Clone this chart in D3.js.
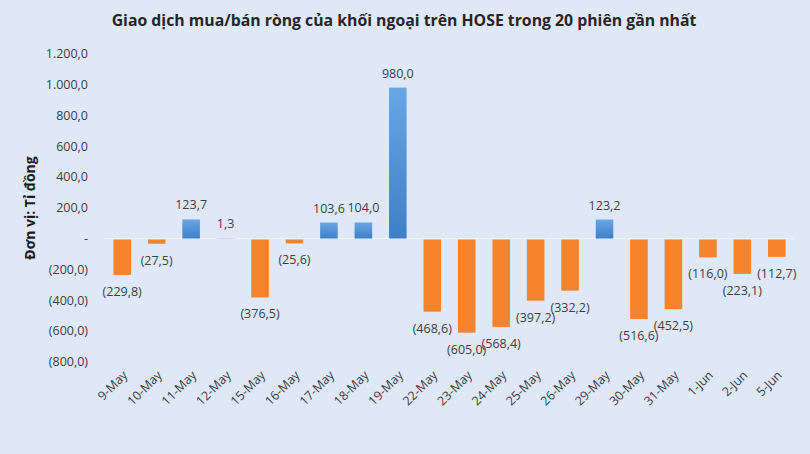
<!DOCTYPE html>
<html>
<head>
<meta charset="utf-8">
<script src="https://cdn.jsdelivr.net/npm/d3@7/dist/d3.min.js"></script>
<style>
    body { margin: 0; background: #dfe8f7; }
    svg { display: block; }
    .tick-label { font-family: "Open Sans", sans-serif; font-size: 12.5px; fill: #404040; }
    .bar-label { font-family: "Open Sans", sans-serif; font-size: 12.5px; fill: #404040; }
</style>
</head>
<body>
<svg width="810" height="454"></svg>
<script>
    // data
    var dates = ["9-May", "10-May", "11-May", "12-May", "15-May", "16-May", "17-May", "18-May",
        "19-May", "22-May", "23-May", "24-May", "25-May", "26-May", "29-May", "30-May",
        "31-May", "1-Jun", "2-Jun", "5-Jun"];
    var netValues = [-229.8, -27.5, 123.7, 1.3, -376.5, -25.6, 103.6, 104.0,
        980.0, -468.6, -605.0, -568.4, -397.2, -332.2, 123.2, -516.6,
        -452.5, -116.0, -223.1, -112.7];
    var yTicks = [-800, -600, -400, -200, 0, 200, 400, 600, 800, 1000, 1200];

    var svg = d3.select("svg"),
        width = +svg.attr("width"),
        height = +svg.attr("height");

    svg.append("rect").attr("width", width).attr("height", height).attr("fill", "#dfe8f7");

    var defs = svg.append("defs");
    var grad = defs.append("linearGradient").attr("id", "blueGrad")
        .attr("x1", 0).attr("y1", 0).attr("x2", 0).attr("y2", 1);
    grad.append("stop").attr("offset", "0%").attr("stop-color", "#6aa6e3");
    grad.append("stop").attr("offset", "100%").attr("stop-color", "#3f7fc6");

    var x = d3.scaleBand().domain(dates).range([105, 794]).paddingInner(0.49).paddingOuter(0.245);
    var y = d3.scaleLinear().domain([-800, 1200]).range([361.7, 53.7]);

    // vietnamese style number: 1.200,0 and negatives in brackets
    var fmtNum = function (v) {
        if (v === 0) return "-";
        var s = Math.abs(v).toFixed(1).replace(".", ",");
        var parts = s.split(",");
        parts[0] = parts[0].replace(/\B(?=(\d{3})+(?!\d))/g, ".");
        s = parts.join(",");
        return v < 0 ? "(" + s + ")" : s;
    };

    // title
    svg.append("text")
        .attr("x", 404).attr("y", 26)
        .attr("text-anchor", "middle")
        .style("font-family", "'Open Sans', sans-serif")
        .style("font-weight", "bold")
        .style("font-size", "15.8px")
        .attr("fill", "#262626")
        .text("Giao dịch mua/bán ròng của khối ngoại trên HOSE trong 20 phiên gần nhất");

    // y axis label
    svg.append("text")
        .attr("transform", "translate(35,208) rotate(-90)")
        .attr("text-anchor", "middle")
        .style("font-family", "'Open Sans', sans-serif")
        .style("font-weight", "bold")
        .style("font-size", "14px")
        .attr("fill", "#1a1a1a")
        .text("Đơn vị: Tỉ đồng");

    // y axis
    var yAxis = svg.append("g")
        .attr("transform", "translate(88,0)")
        .call(d3.axisLeft(y).tickValues(yTicks).tickSize(0).tickPadding(0).tickFormat(fmtNum));
    yAxis.select(".domain").remove();
    yAxis.selectAll("text").attr("class", "tick-label").attr("fill", null).attr("font-size", null)
        .attr("font-family", null);

    // zero line
    svg.append("line")
        .attr("x1", 105).attr("x2", 794)
        .attr("y1", y(0)).attr("y2", y(0))
        .attr("stroke", "#eef2fa").attr("stroke-width", 1.2);

    // bars
    svg.selectAll(".bar")
        .data(netValues)
        .enter().append("rect")
        .attr("class", "bar")
        .attr("x", function (d, i) { return x(dates[i]); })
        .attr("width", x.bandwidth())
        .attr("y", function (d) { return d >= 0 ? y(d) : y(0) + 1; })
        .attr("height", function (d) { return Math.abs(y(d) - y(0)); })
        .attr("fill", function (d) { return d >= 0 ? "url(#blueGrad)" : "#f5832b"; });

    // value labels
    svg.selectAll(".bar-label")
        .data(netValues)
        .enter().append("text")
        .attr("class", "bar-label")
        .attr("text-anchor", "middle")
        .attr("x", function (d, i) { return x(dates[i]) + x.bandwidth() / 2; })
        .attr("y", function (d) { return d >= 0 ? y(d) - 10 : y(d) + 22; })
        .text(fmtNum);

    // x axis labels, rotated
    svg.selectAll(".x-label")
        .data(dates)
        .enter().append("text")
        .attr("class", "tick-label")
        .attr("text-anchor", "end")
        .attr("transform", function (d) {
            return "translate(" + (x(d) + x.bandwidth() / 2 + 6) + ",376) rotate(-45)";
        })
        .text(function (d) { return d; });
</script>
</body>
</html>
